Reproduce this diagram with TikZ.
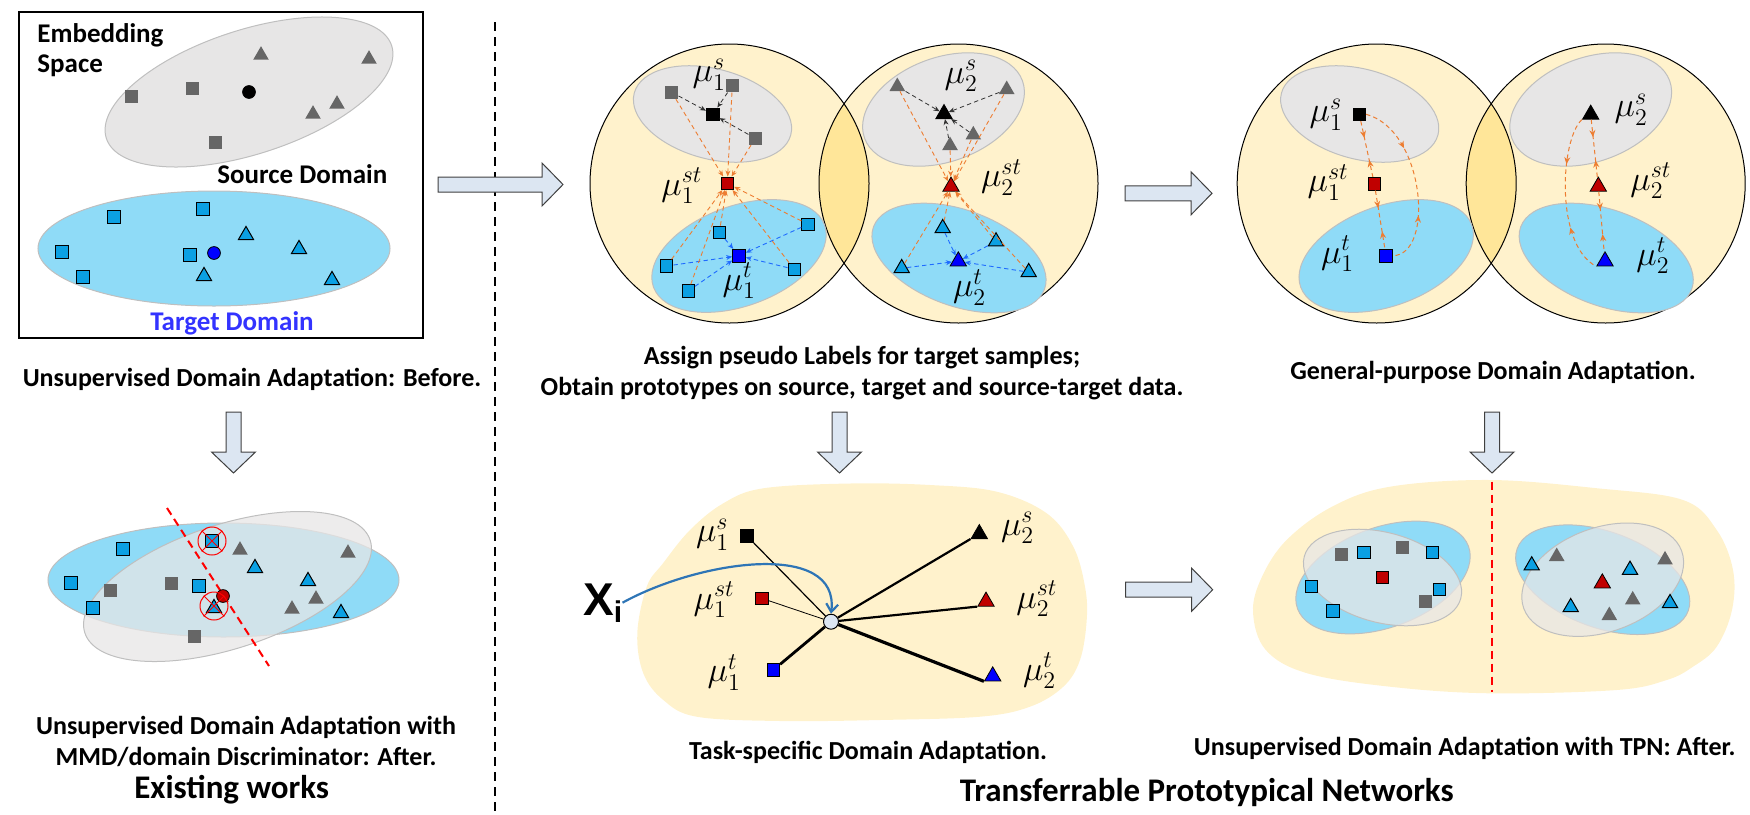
\documentclass[tikz,border=0pt]{standalone}
\usepackage{amsmath}
\usepackage{fontspec}
\setmainfont{Carlito}
\newfontfamily\heavyfont{Liberation Sans}
\usetikzlibrary{arrows.meta,positioning,shapes.geometric,decorations.markings}
\definecolor{PanelYellow}{HTML}{FFF2CC}
\definecolor{LensYellow} {HTML}{FFE699}
\definecolor{SrcGray}    {HTML}{E7E6E6}
\definecolor{TgtBlue}    {HTML}{8FDBF7}
\definecolor{EdgeGray}   {HTML}{BFBFBF}
\definecolor{PtGray}     {HTML}{666666}
\definecolor{PtBlue}     {HTML}{0BA0E3}
\definecolor{ProtoRed}   {HTML}{C00000}
\definecolor{ProtoBlue}  {HTML}{0000FF}
\definecolor{FlowOrange} {HTML}{ED7D31}
\definecolor{FlowBlue}   {HTML}{1F6BFF}
\definecolor{ArrowFill}  {HTML}{DCE6F2}
\definecolor{CurveBlue}  {HTML}{2E75B6}
\definecolor{TextBlue}   {HTML}{3333FF}

\tikzset{
  graysq/.style={rectangle,fill=PtGray,minimum size=6.5pt,inner sep=0pt},
  bluesq/.style={rectangle,draw=black,line width=0.5pt,fill=PtBlue,minimum size=6.2pt,inner sep=0pt},
  protosq/.style={rectangle,draw=black,line width=0.4pt,fill=#1,minimum size=6.4pt,inner sep=0pt},
  graytri/.style={regular polygon,regular polygon sides=3,fill=PtGray,minimum size=9pt,inner sep=0pt,yshift=-1.1pt},
  bluetri/.style={regular polygon,regular polygon sides=3,draw=black,line width=0.5pt,fill=PtBlue,minimum size=8.8pt,inner sep=0pt,yshift=-1.1pt},
  prototri/.style={regular polygon,regular polygon sides=3,draw=black,line width=0.4pt,fill=#1,minimum size=9.4pt,inner sep=0pt,yshift=-1.1pt},
  dotnode/.style={circle,draw=black,line width=0.4pt,fill=#1,minimum size=6.4pt,inner sep=0pt},
  crossmark/.style={circle,draw=red,line width=0.5pt,minimum size=14pt,inner sep=0pt},
  srcell/.style={fill=SrcGray,draw=EdgeGray,line width=0.5pt},
  tgtell/.style={fill=TgtBlue,draw=EdgeGray,line width=0.5pt},
  fatarrow/.style={fill=ArrowFill,draw=black!75,line width=0.5pt},
  pics/fatright/.style={code={\draw[fatarrow] (0,-7.5) -- (#1-21,-7.5) -- (#1-21,-21.5) -- (#1,0) -- (#1-21,21.5) -- (#1-21,7.5) -- (0,7.5) -- cycle;}},
  pics/fatdown/.style={code={\draw[fatarrow] (-7.5,0) -- (-7.5,40) -- (-22,40) -- (0,61) -- (22,40) -- (7.5,40) -- (7.5,0) -- cycle;}},
  srcflow/.style={black!80,line width=0.4pt,dash pattern=on 2.2pt off 1.6pt,-{Stealth[length=3pt,width=2.5pt]}},
  stflow/.style={FlowOrange,line width=0.45pt,dash pattern=on 2.2pt off 1.6pt,-{Stealth[length=3pt,width=2.5pt]}},
  tgtflow/.style={FlowBlue,line width=0.45pt,dash pattern=on 2.2pt off 1.6pt,-{Stealth[length=3pt,width=2.5pt]}},
  pullflow/.style={FlowOrange,line width=0.5pt,dash pattern=on 2.2pt off 1.6pt,postaction={decorate},
    decoration={markings,
      mark=at position 0.3 with {\arrow{Stealth[length=3.5pt,width=3pt]}},
      mark=at position 0.7 with {\arrowreversed{Stealth[length=3.5pt,width=3pt]}}}},
  mulab/.style={font=\fontsize{17}{17}\selectfont,inner sep=0pt,anchor=base west},
  boxtxt/.style={font=\fontsize{13.5}{15}\selectfont\bfseries,inner sep=0pt,anchor=base west},
  captxt/.style={font=\fontsize{13}{15.85}\selectfont\bfseries,align=center,inner sep=0pt},
  titletxt/.style={font=\fontsize{16.5}{18}\selectfont\bfseries,inner sep=0pt,anchor=base},
}

\begin{document}
\begin{tikzpicture}[x=0.5pt,y=-0.5pt]
\useasboundingbox (0,0) rectangle (1750,814);

% existing works, before
\draw[line width=0.75pt] (19,12) rectangle (423,338);
\filldraw[srcell] (249,92) ellipse [x radius=150, y radius=62, rotate=18];
\filldraw[tgtell] (214,248.5) ellipse [x radius=176, y radius=57.5];
\foreach \x/\y [count=\i] in {131/96,192/88,215/142}
  \node[graysq] (es\i) at (\x,\y) {};
\foreach \x/\y [count=\i] in {261/53,369/57,337/102,313/112}
  \node[graytri] (ea\i) at (\x,\y) {};
\foreach \x/\y [count=\i] in {114/217,203/209,62/252,83/277,190/255}
  \node[bluesq] (et\i) at (\x,\y) {};
\foreach \x/\y [count=\i] in {246/233,299/247,204/274,332/278}
  \node[bluetri] (eb\i) at (\x,\y) {};
\node[dotnode=black] (ec1) at (249,92) {};
\node[dotnode=ProtoBlue] (ec2) at (214,253) {};
\node[boxtxt] (emb1) at (37,42.7) {Embedding};
\node[boxtxt] (emb2) at (37,72.7) {Space};
\node[boxtxt] (srcname) at (217,183.3) {Source Domain};
\node[boxtxt,text=TextBlue] (tgtname) at (150,330) {Target Domain};
\node[captxt,anchor=base] (capA) at (252,386.7) {Unsupervised Domain Adaptation: Before.};

% existing works, after
\filldraw[tgtell] (223.5,580) ellipse [x radius=175.5, y radius=57];
\filldraw[srcell,fill opacity=0.75] (227.5,586.5) ellipse [x radius=150, y radius=62, rotate=18];
\foreach \x/\y [count=\i] in {123/549,71/583,93/608,199/586,212/541}
  \node[bluesq] (ft\i) at (\x,\y) {};
\foreach \x/\y [count=\i] in {110/590,171/583,194/636}
  \node[graysq] (fs\i) at (\x,\y) {};
\foreach \x/\y [count=\i] in {240/548,348/551,316/597,292/607}
  \node[graytri] (fa\i) at (\x,\y) {};
\foreach \x/\y [count=\i] in {255/566,308/579,341/611,214/606}
  \node[bluetri] (fb\i) at (\x,\y) {};
\coordinate (cutA) at (167,508);
\coordinate (cutB) at (269,666);
\draw[red,line width=1pt,dash pattern=on 4pt off 2.5pt] (cutA) -- (cutB);
\node[dotnode=ProtoRed] (fc) at (223,596) {};
\foreach \x/\y [count=\i] in {212/541,214/606} {
  \node[crossmark] (cx\i) at (\x,\y) {};
  \draw[red,line width=0.5pt] (cx\i.north west) -- (cx\i.south east) (cx\i.north east) -- (cx\i.south west);
}
\node[captxt,anchor=north] (capB) at (246,715.5) {Unsupervised Domain Adaptation with\\MMD/domain Discriminator: After.};
\node[titletxt] (titleA) at (231.7,798.3) {Existing works};

\draw[line width=0.8pt,dash pattern=on 4.5pt off 3pt] (495,22) -- (495,812);

% two-circle panels
\foreach \dx in {0,647.2} {
  \begin{scope}[shift={(\dx,0)}]
    \fill[PanelYellow] (729.5,183.5) circle [radius=139.5];
    \fill[PanelYellow] (958.5,183.5) circle [radius=139.5];
    \begin{scope}
      \clip (729.5,183.5) circle [radius=139.5];
      \fill[LensYellow] (958.5,183.5) circle [radius=139.5];
    \end{scope}
    \draw[line width=0.5pt] (729.5,183.5) circle [radius=139.5] (958.5,183.5) circle [radius=139.5];
    \filldraw[srcell] (712.5,114) ellipse [x radius=81, y radius=45, rotate=-15];
    \filldraw[tgtell] (739,256) ellipse [x radius=91, y radius=50, rotate=20];
    \filldraw[srcell] (943.5,109.5) ellipse [x radius=84, y radius=52, rotate=20];
    \filldraw[tgtell] (959,258) ellipse [x radius=91, y radius=48, rotate=-20];
  \end{scope}
}

% pseudo labels and prototypes
\foreach \x/\y [count=\i] in {671.7/92.3,732.3/85.7,755.3/138.3}
  \node[graysq] (ps\i) at (\x,\y) {};
\foreach \x/\y [count=\i] in {719.3/232.3,808/224.3,666.7/266,688.3/291,794.3/269.3}
  \node[bluesq] (pt\i) at (\x,\y) {};
\node[protosq=black] (ms1) at (712.7,114.3) {};
\node[protosq=ProtoRed] (mst1) at (727.3,183.3) {};
\node[protosq=ProtoBlue] (mt1) at (739,255.7) {};
\foreach \x/\y [count=\i] in {897.3/84.3,1006.7/87.3,973.3/132.7,950/143.3}
  \node[graytri] (qs\i) at (\x,\y) {};
\foreach \x/\y [count=\i] in {942.7/226,996/239.3,901.7/266,1028.7/270}
  \node[bluetri] (qt\i) at (\x,\y) {};
\node[prototri=black] (ms2) at (944,111.7) {};
\node[prototri=ProtoRed] (mst2) at (951,184.3) {};
\node[prototri=ProtoBlue] (mt2) at (958.3,259) {};
\foreach \i in {1,2,3} {
  \draw[srcflow] (ps\i) -- (ms1);
  \draw[stflow] (ps\i) -- (mst1);
}
\foreach \i in {1,...,5} {
  \draw[stflow] (pt\i) -- (mst1);
  \draw[tgtflow] (pt\i) -- (mt1);
}
\foreach \i in {1,...,4} {
  \draw[srcflow] (qs\i) -- (ms2);
  \draw[stflow] (qs\i) -- (mst2);
  \draw[stflow] (qt\i) -- (mst2);
  \draw[tgtflow] (qt\i) -- (mt2);
}
\node[mulab] (pl1s) at (692.3,81.7) {$\mu_1^{s}$};
\node[mulab] (pl1st) at (661,195) {$\mu_1^{st}$};
\node[mulab] (pl1t) at (722.3,290) {$\mu_1^{t}$};
\node[mulab] (pl2s) at (944.3,83.3) {$\mu_2^{s}$};
\node[mulab] (pl2st) at (980.7,186.7) {$\mu_2^{st}$};
\node[mulab] (pl2t) at (952.7,296.7) {$\mu_2^{t}$};
\node[captxt,anchor=north] (capC) at (862,345.5) {Assign pseudo Labels for target samples;\\Obtain prototypes on source, target and source-target data.};

% general-purpose
\node[protosq=black] (gs1) at (1359.3,114.3) {};
\node[protosq=ProtoRed] (gst1) at (1374.3,183.7) {};
\node[protosq=ProtoBlue] (gt1) at (1386,255.7) {};
\node[prototri=black] (gs2) at (1590.7,112.3) {};
\node[prototri=ProtoRed] (gst2) at (1598.3,184.3) {};
\node[prototri=ProtoBlue] (gt2) at (1605,259) {};
\draw[pullflow] (gs1) -- (gst1);
\draw[pullflow] (gst1) -- (gt1);
\draw[pullflow] (gs1.east) .. controls (1425,130) and (1435,255) .. (gt1.east);
\draw[pullflow] (gs2) -- (gst2);
\draw[pullflow] (gst2) -- (gt2);
\draw[pullflow] (gs2.corner 2) .. controls (1560,140) and (1555,245) .. (gt2.corner 2);
\node[mulab] (gl1s) at (1309.3,121.7) {$\mu_1^{s}$};
\node[mulab] (gl1st) at (1307.3,191.7) {$\mu_1^{st}$};
\node[mulab] (gl1t) at (1320.7,263.3) {$\mu_1^{t}$};
\node[mulab] (gl2s) at (1614.3,116.7) {$\mu_2^{s}$};
\node[mulab] (gl2st) at (1630,190) {$\mu_2^{st}$};
\node[mulab] (gl2t) at (1636,265) {$\mu_2^{t}$};
\node[captxt,anchor=base] (capD) at (1493,379.3) {General-purpose Domain Adaptation.};

% task-specific
\fill[PanelYellow] plot[smooth cycle,tension=0.6] coordinates {(637.3,633.3) (643.3,673.3) (663.3,700) (696.7,716.7) (780,721) (880,720) (980,716.7) (1030,706.7) (1063.3,686.7) (1080,660) (1086.7,620) (1085,586.7) (1073.3,546.7) (1046.7,513.3) (996.7,491.7) (930,485) (850,483.5) (763.3,488.3) (723.3,503.3) (690,530) (663,563.3) (646.7,586.7)};
\node[protosq=black] (ts1) at (746.7,535.7) {};
\node[protosq=ProtoRed] (tst1) at (761.7,598.3) {};
\node[protosq=ProtoBlue] (tt1) at (773.3,670) {};
\node[prototri=black] (ts2) at (979.3,531.7) {};
\node[prototri=ProtoRed] (tst2) at (986,599.3) {};
\node[prototri=ProtoBlue] (tt2) at (992.7,674) {};
\node[circle,draw=black,line width=0.5pt,fill=ArrowFill,minimum size=7.5pt,inner sep=0pt] (xi) at (831,621.7) {};
\draw[line width=0.6pt] (xi) -- (ts1);
\draw[line width=0.4pt] (xi) -- (tst1);
\draw[line width=1.4pt] (xi) -- (tt1);
\draw[line width=1.1pt] (xi) -- (ts2.corner 2);
\draw[line width=1.1pt] (xi) -- (tst2.corner 2);
\draw[line width=1.6pt] (xi) -- (tt2.corner 2);
\node[anchor=base west,inner sep=0pt,font=\heavyfont\bfseries\fontsize{23}{23}\selectfont] (xlab) at (582.7,615) {X\raisebox{-3.5pt}{\fontsize{15}{15}\selectfont i}};
\draw[CurveBlue,line width=1.1pt,-{Straight Barb[length=4pt,width=6pt]}] (xlab.east) .. controls (700,560) and (840,540) .. (xi.north);
\node[mulab] (tl1s) at (695.7,541.7) {$\mu_1^{s}$};
\node[mulab] (tl1st) at (693.3,609.3) {$\mu_1^{st}$};
\node[mulab] (tl1t) at (707.3,681.7) {$\mu_1^{t}$};
\node[mulab] (tl2s) at (1000.7,535) {$\mu_2^{s}$};
\node[mulab] (tl2st) at (1016,608.3) {$\mu_2^{st}$};
\node[mulab] (tl2t) at (1022.7,680) {$\mu_2^{t}$};
\node[captxt,anchor=base] (capE) at (868,759.3) {Task-specific Domain Adaptation.};

% with TPN, after
\fill[PanelYellow] plot[smooth cycle,tension=0.6] coordinates {(1253,612) (1265.8,650) (1307.3,673.3) (1390,686.7) (1490,693.3) (1616.7,690) (1666.7,680) (1693,666.7) (1716.7,646.7) (1732,610) (1733,570) (1716.7,530) (1683,500) (1597.5,488.3) (1490,480) (1390,486.7) (1332,506.7) (1286.6,540) (1262,576.7)};
\filldraw[tgtell] (1383,577.5) ellipse [x radius=91, y radius=50, rotate=20];
\filldraw[srcell,fill opacity=0.75] (1382.5,577.5) ellipse [x radius=81, y radius=45, rotate=-15];
\filldraw[tgtell] (1602.7,579.7) ellipse [x radius=91, y radius=48, rotate=-20];
\filldraw[srcell,fill opacity=0.75] (1602.7,579.7) ellipse [x radius=84, y radius=52, rotate=20];
\foreach \x/\y [count=\i] in {1341.3/554,1402.3/547.3,1425.7/601.7}
  \node[graysq] (ks\i) at (\x,\y) {};
\foreach \x/\y [count=\i] in {1364/552.3,1432.3/552.3,1439.3/589.3,1311.4/586.7,1333/611}
  \node[bluesq] (kt\i) at (\x,\y) {};
\node[protosq=ProtoRed] (kst1) at (1382.3,577.3) {};
\foreach \x/\y [count=\i] in {1556.7/554.3,1665/557.7,1632.7/597.7,1609.3/613.3}
  \node[graytri] (ka\i) at (\x,\y) {};
\foreach \x/\y [count=\i] in {1531.7/563.3,1630/567.7,1570.7/605,1670/601}
  \node[bluetri] (kb\i) at (\x,\y) {};
\node[prototri=ProtoRed] (kst2) at (1602.3,581) {};
\coordinate (bndA) at (1491.7,481.7);
\coordinate (bndB) at (1491.7,691.7);
\draw[red,line width=0.9pt,dash pattern=on 4pt off 2.5pt] (bndA) -- (bndB);
\node[captxt,anchor=base] (capF) at (1464.7,755) {Unsupervised Domain Adaptation with TPN: After.};
\node[titletxt] (titleB) at (1206.7,801.7) {Transferrable Prototypical Networks};

% flow arrows
\pic at (438,184.5) {fatright=125};
\pic at (1125,193.3) {fatright=87};
\pic at (1125.7,589.7) {fatright=87};
\pic at (233.5,412) {fatdown};
\pic at (839.5,412) {fatdown};
\pic at (1492,412) {fatdown};
\end{tikzpicture}
\end{document}
